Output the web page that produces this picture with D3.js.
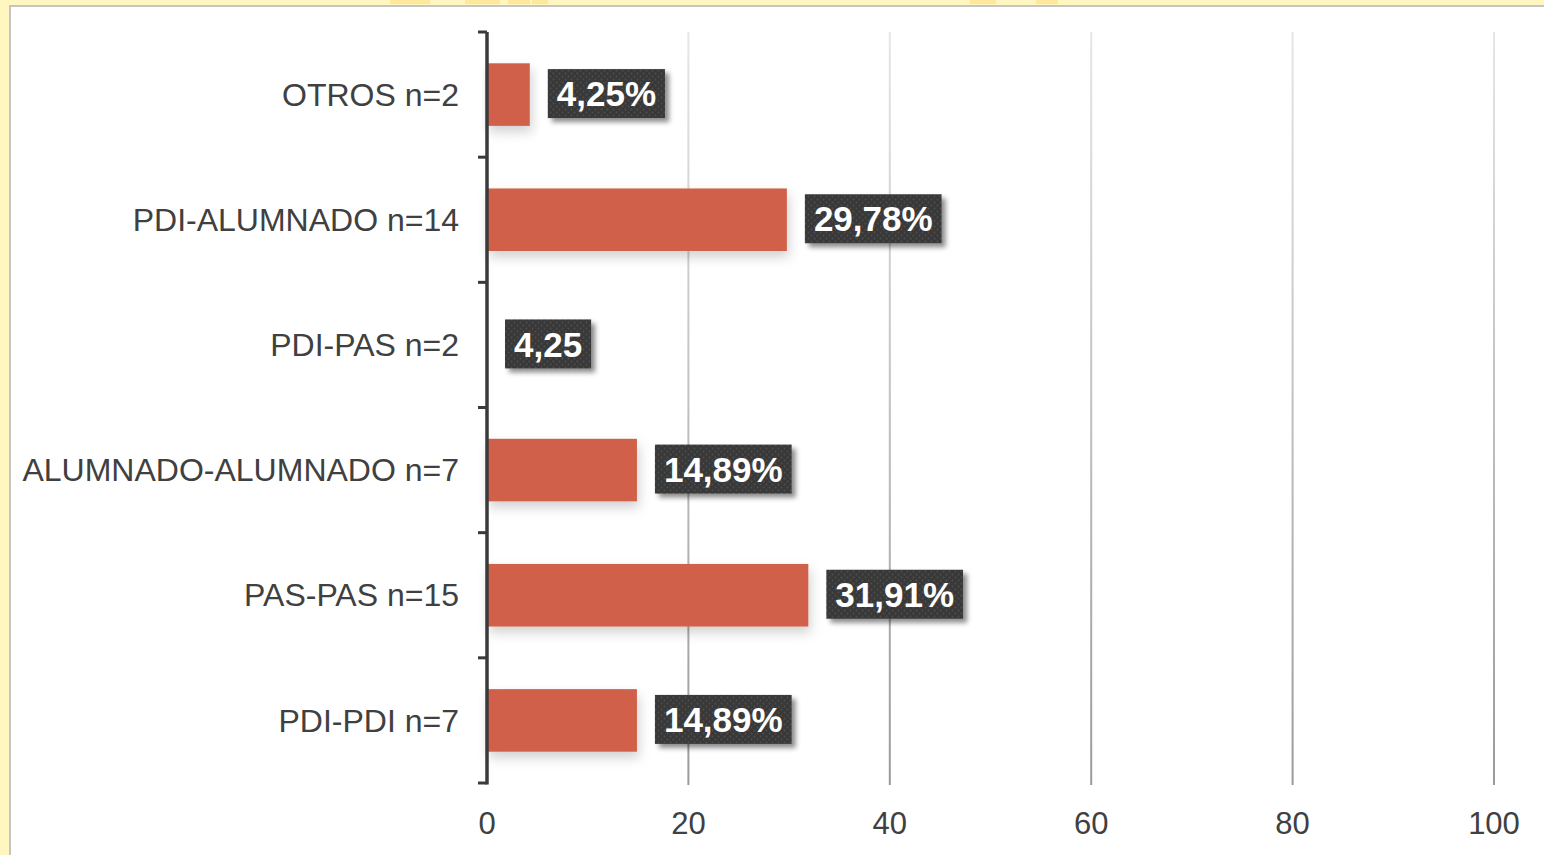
<!DOCTYPE html>
<html><head><meta charset="utf-8">
<script src="https://cdn.jsdelivr.net/npm/d3@7"></script>
<style>html,body{margin:0;padding:0;background:#fff;}svg{display:block;}</style>
</head><body>
<script>
const categories = ["OTROS n=2","PDI-ALUMNADO n=14","PDI-PAS n=2","ALUMNADO-ALUMNADO n=7","PAS-PAS n=15","PDI-PDI n=7"];
const values = [4.25, 29.78, 0, 14.89, 31.91, 14.89];
const labels = ["4,25%","29,78%","4,25","14,89%","31,91%","14,89%"];
const xTicks = [0,20,40,60,80,100];

const W = 1544, H = 855;
const svg = d3.select("body").append("svg").attr("width", W).attr("height", H);
const defs = svg.append("defs");

// frame
svg.append("rect").attr("x",0).attr("y",0).attr("width",W).attr("height",H).attr("fill","#fff6c0");
[[390,0,40],[465,0,35],[508,0,22],[532,0,16],[970,0,26],[1036,0,22]].forEach(d=>{
  svg.append("rect").attr("x",d[0]).attr("y",0).attr("width",d[2]).attr("height",4).attr("fill","#ffe79c");
});
svg.append("rect").attr("x",9).attr("y",5).attr("width",W).attr("height",H).attr("fill","#c4c4c4");
svg.append("rect").attr("x",11).attr("y",7).attr("width",W).attr("height",H).attr("fill","#ffffff");

const x = d3.scaleLinear().domain([0,100]).range([487,1494]);
const y = d3.scaleBand().domain(categories).range([32,783]).paddingInner(0.5).paddingOuter(0.25);

// gradient for gridlines
const g1 = defs.append("linearGradient").attr("id","gridGrad").attr("gradientUnits","userSpaceOnUse")
  .attr("x1",0).attr("y1",32).attr("x2",0).attr("y2",785);
g1.append("stop").attr("offset","0%").attr("stop-color","#e6e6e6");
g1.append("stop").attr("offset","100%").attr("stop-color","#9a9a9a");

// shadows
const f = defs.append("filter").attr("id","barShadow").attr("x","-10%").attr("y","-20%").attr("width","130%").attr("height","160%");
f.append("feDropShadow").attr("dx",2).attr("dy",6).attr("stdDeviation",6).attr("flood-color","#000").attr("flood-opacity",0.18);
const f2 = defs.append("filter").attr("id","lblShadow").attr("x","-20%").attr("y","-30%").attr("width","150%").attr("height","180%");
f2.append("feDropShadow").attr("dx",4).attr("dy",4).attr("stdDeviation",2.5).attr("flood-color","#000").attr("flood-opacity",0.45);

// dotted pattern for label boxes
const pat = defs.append("pattern").attr("id","dots").attr("patternUnits","userSpaceOnUse").attr("width",6).attr("height",6);
pat.append("rect").attr("width",6).attr("height",6).attr("fill","#393939");
pat.append("circle").attr("cx",1.5).attr("cy",1.5).attr("r",1).attr("fill","#4d4d4d");
pat.append("circle").attr("cx",4.5).attr("cy",4.5).attr("r",1).attr("fill","#4d4d4d");

// gridlines
svg.append("g").selectAll("rect").data(xTicks.filter(d=>d>0)).join("rect")
  .attr("x", d=>x(d)-1).attr("y",32).attr("width",2).attr("height",753)
  .attr("fill","url(#gridGrad)");

// bars
svg.append("g").selectAll("rect").data(categories).join("rect")
  .attr("x", x(0)).attr("y", d=>y(d))
  .attr("width", (d,i)=>x(values[i])-x(0))
  .attr("height", y.bandwidth())
  .attr("fill","#d0614a")
  .attr("filter","url(#barShadow)");

// y axis
const band = (783-32)/categories.length;
const ax = svg.append("g");
ax.append("line").attr("x1",x(0)).attr("x2",x(0)).attr("y1",32).attr("y2",784.5)
  .attr("stroke","#3a3a3a").attr("stroke-width",3.5);
d3.range(categories.length+1).forEach(i=>{
  const yy = 32 + i*band;
  ax.append("line").attr("x1",x(0)-9).attr("x2",x(0)).attr("y1",yy).attr("y2",yy)
    .attr("stroke","#3a3a3a").attr("stroke-width",3);
});

// category labels
svg.append("g").selectAll("text").data(categories).join("text")
  .attr("x",459).attr("y",d=>y(d)+y.bandwidth()/2)
  .attr("dy","0.35em").attr("text-anchor","end")
  .attr("font-family","Liberation Sans, Arial, sans-serif").attr("font-size",32)
  .attr("fill","#404040").text(d=>d);

// x tick labels
svg.append("g").selectAll("text").data(xTicks).join("text")
  .attr("x",d=>x(d)).attr("y",834).attr("text-anchor","middle")
  .attr("font-family","Liberation Sans, Arial, sans-serif").attr("font-size",31)
  .attr("fill","#404040").text(d=>d);

// data labels
const lg = svg.append("g");
categories.forEach((c,i)=>{
  const g = lg.append("g");
  const t = g.append("text")
    .attr("font-family","Liberation Sans, Arial, sans-serif").attr("font-weight","bold")
    .attr("font-size",35).attr("fill","#fff").text(labels[i]);
  const tw = t.node().getComputedTextLength();
  const bx = x(values[i]) + 18;
  const cy = y(c) + y.bandwidth()/2 - 1;
  const bw = tw + 18, bh = 49;
  g.insert("rect","text").attr("x",bx).attr("y",cy-bh/2).attr("width",bw).attr("height",bh)
    .attr("fill","url(#dots)").attr("filter","url(#lblShadow)");
  t.attr("x",bx+bw/2).attr("y",cy).attr("dy","0.36em").attr("text-anchor","middle");
});
</script>
</body></html>
